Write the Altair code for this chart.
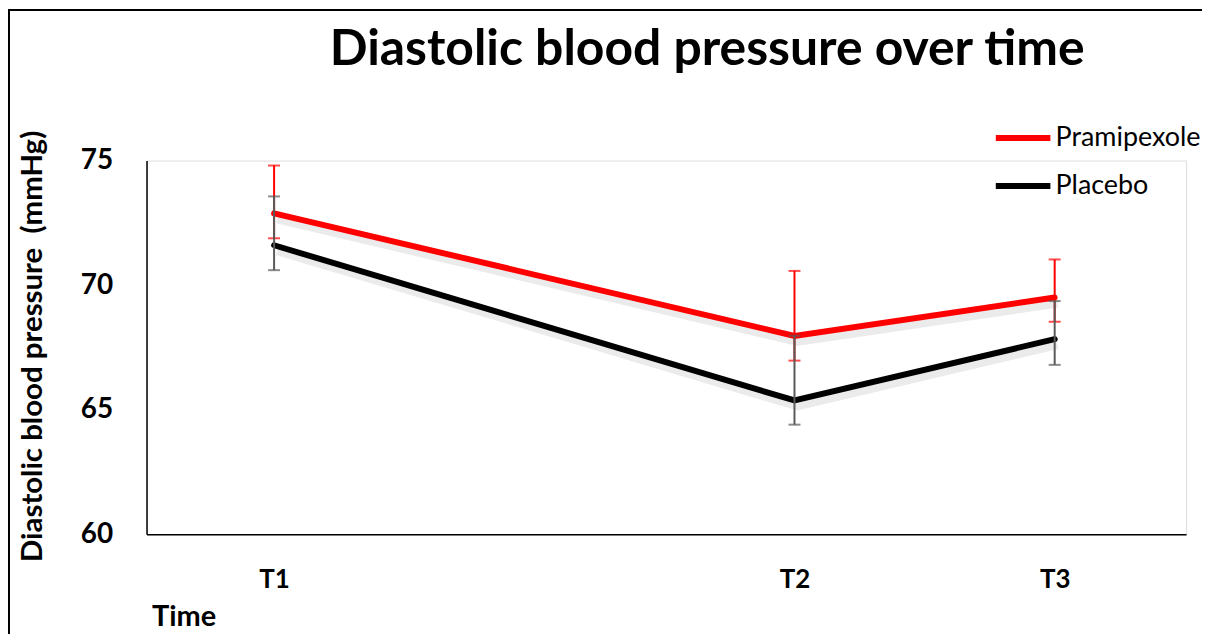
import altair as alt
import pandas as pd

time_labels = ["T1", "T2", "T3"]
time_pos = [1.0, 5.08, 7.12]
series_names = ["Pramipexole", "Placebo"]
prami_mean = [72.88, 67.96, 69.5]
prami_upper = [74.8, 70.57, 71.03]
prami_lower = [71.88, 66.97, 68.53]
placebo_mean = [71.6, 65.37, 67.83]
placebo_upper = [73.56, 67.97, 69.36]
placebo_lower = [70.6, 64.4, 66.8]

rows = []
for name, m, u, l in [
    ("Pramipexole", prami_mean, prami_upper, prami_lower),
    ("Placebo", placebo_mean, placebo_upper, placebo_lower),
]:
    for t, p, mv, uv, lv in zip(time_labels, time_pos, m, u, l):
        rows.append({"series": name, "time": t, "pos": p, "mean": mv, "upper": uv, "lower": lv})
df = pd.DataFrame(rows)

FONT = "Lato"
label_expr = "[" + ",".join(f"'{t}'" for t in time_labels) + "][indexof([" + ",".join(str(p) for p in time_pos) + "], datum.value)]"

x_enc = alt.X(
    "pos:Q",
    scale=alt.Scale(domain=[0, 8.15], nice=False, zero=False),
    axis=alt.Axis(
        values=time_pos, labelExpr=label_expr, title="Time", grid=False, ticks=False,
        domainColor="black", domainWidth=1.5, labelFont=FONT, labelFontWeight="bold",
        labelFontSize=26, labelColor="black", labelPadding=32,
        titleFont=FONT, titleFontWeight="bold", titleFontSize=29, titleColor="black",
        titleX=5, titleY=83, titleAlign="left", titleBaseline="middle",
    ),
)
y_enc = alt.Y(
    "mean:Q",
    scale=alt.Scale(domain=[60, 75], nice=False, zero=False),
    axis=alt.Axis(
        values=[60, 65, 70, 75], title="Diastolic blood pressure\u00a0\u00a0(mmHg)", grid=False, ticks=False,
        domainColor="black", domainWidth=1.5, labelFont=FONT, labelFontWeight="bold",
        labelFontSize=28, labelColor="black", labelPadding=34,
        titleFont=FONT, titleFontWeight="bold", titleFontSize=29.5, titleColor="black",
        titleX=-114, titleY=186, titleAngle=270, titleAlign="center", titleBaseline="middle",
    ),
)

color_enc = alt.Color(
    "series:N",
    scale=alt.Scale(domain=series_names, range=["#ff0000", "#000000"]),
    legend=alt.Legend(
        title=None, orient="none", legendX=849, legendY=-53, symbolType="stroke",
        symbolSize=3000, symbolStrokeWidth=6, labelFont=FONT, labelFontSize=27,
        labelColor="black", rowPadding=4, labelOffset=2,
    ),
)

base = alt.Chart(df)

shadow = base.mark_line(strokeWidth=8, color="black", opacity=0.08, xOffset=3, yOffset=6).encode(
    x=x_enc, y=y_enc, detail="series:N"
)
lines = base.mark_line(strokeWidth=6, strokeCap="round", strokeJoin="miter").encode(
    x=x_enc, y=y_enc, color=color_enc
)

def errbars(name, col):
    d = base.transform_filter(alt.datum.series == name)
    bar = d.mark_rule(strokeWidth=2, color=col).encode(x="pos:Q", y="upper:Q", y2="lower:Q")
    cap_u = d.mark_tick(orient="horizontal", size=12, thickness=2, color=col).encode(x="pos:Q", y="upper:Q")
    cap_l = d.mark_tick(orient="horizontal", size=12, thickness=2, color=col).encode(x="pos:Q", y="lower:Q")
    return [bar, cap_u, cap_l]

frame_data = alt.Data(values=[{"a": 1}])
frame_left = alt.Chart(frame_data).mark_rule(color="black", strokeWidth=2).encode(
    x=alt.value(-138), y=alt.value(-152), y2=alt.value(480)
)
frame_top = alt.Chart(frame_data).mark_rule(color="black", strokeWidth=2).encode(
    x=alt.value(-139), x2=alt.value(1060), y=alt.value(-151)
)

chart = alt.layer(
    shadow, lines, *errbars("Pramipexole", "#ff0000"), *errbars("Placebo", "#595959"),
    frame_left, frame_top,
).properties(
    width=1043, height=375,
    title=alt.TitleParams(
        "Diastolic blood pressure over time", font=FONT, fontSize=50, fontWeight="bold",
        color="black", anchor="middle", frame="group", dx=41, offset=-67,
    ),
    autosize=alt.AutoSizeParams(type="none"),
    padding={"left": 139, "top": 152, "right": 16, "bottom": 99},
).configure_view(stroke=None).configure(background="white")

chart.save("out.html", embed_options={"renderer": "svg", "actions": False})
